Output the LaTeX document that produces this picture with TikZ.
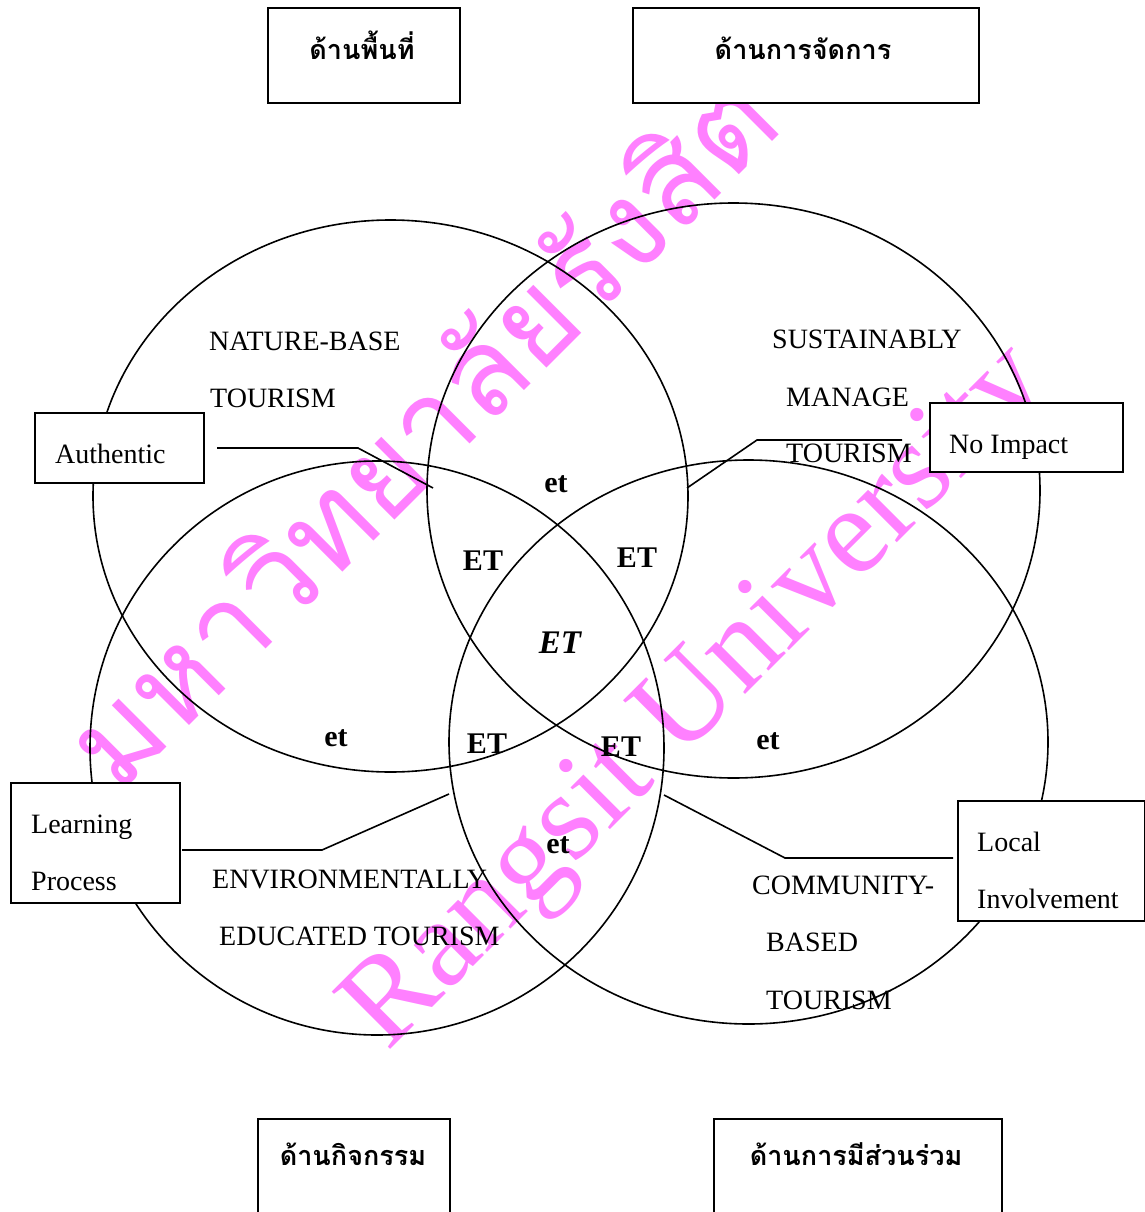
\documentclass[tikz,border=0pt]{standalone}
\usepackage{fontspec}
\setmainfont{Liberation Serif}
\newfontfamily\thaifont[Script=Thai]{Loma}
\usetikzlibrary{shapes.geometric}
\definecolor{wm}{RGB}{255,128,255}
\begin{document}
\begin{tikzpicture}[x=1pt,y=-1pt,
  ring/.style={draw, ellipse, line width=1.6pt, inner sep=0pt},
  box/.style={draw, line width=1.8pt, fill=white, inner sep=0pt, anchor=north west},
  lab/.style={font=\fontsize{28}{30}\selectfont, anchor=base west, inner sep=0pt},
  etl/.style={font=\fontsize{30}{32}\selectfont\bfseries, anchor=base, inner sep=0pt},
  th/.style={font=\thaifont\bfseries\fontsize{27}{32}\selectfont, anchor=base, inner sep=0pt},
  conn/.style={line width=1.6pt},
  wmth/.style={text=wm, font=\thaifont\fontsize{122}{122}\selectfont, rotate=45, inner sep=0pt},
  wmen/.style={text=wm, font=\fontsize{125}{125}\selectfont, rotate=45, inner sep=0pt}]
\useasboundingbox (0,0) rectangle (1145,1212);
% watermark
\node[wmth] (wmThai) at (418,428) {มหาวิทยาลัยรังสิต};
\node[wmen] (wmEng) at (700,700) {Rangsit University};
% ellipses
\node[ring, minimum width=595pt, minimum height=552pt] (nature) at (390.5,496) {};
\node[ring, minimum width=613pt, minimum height=575pt] (manage) at (733.5,490.5) {};
\node[ring, minimum width=574pt, minimum height=574pt] (educ) at (377,748) {};
\node[ring, minimum width=599pt, minimum height=564pt] (comm) at (748.5,742) {};
% ellipse texts
\node[lab] (t1) at (209,350) {NATURE-BASE};
\node[lab] (t2) at (210,407) {TOURISM};
\node[lab] (t3) at (772,348) {SUSTAINABLY};
\node[lab] (t4) at (786,406) {MANAGE};
\node[lab] (t5) at (786,462) {TOURISM};
\node[lab] (t6) at (212,888) {ENVIRONMENTALLY};
\node[lab] (t7) at (219,945) {EDUCATED TOURISM};
\node[lab] (t8) at (752,894) {COMMUNITY-};
\node[lab] (t9) at (766,951) {BASED};
\node[lab] (t10) at (766,1009) {TOURISM};
% region labels
\node[etl] (r1) at (556,492) {et};
\node[etl] (r2) at (483,570) {ET};
\node[etl] (r3) at (637,567) {ET};
\node[etl, font=\fontsize{33}{35}\selectfont\bfseries\itshape] (r4) at (560,653) {ET};
\node[etl] (r5) at (336,746) {et};
\node[etl] (r6) at (487,753) {ET};
\node[etl] (r7) at (621,756) {ET};
\node[etl] (r8) at (768,749) {et};
\node[etl] (r9) at (558,853) {et};
% side boxes
\node[box, minimum width=169pt, minimum height=70pt] (authBox) at (34,412) {};
\node[lab] (authT) at (55,463) {Authentic};
\node[box, minimum width=193pt, minimum height=69pt] (impBox) at (929,402) {};
\node[lab] (impT) at (949,453) {No Impact};
\node[box, minimum width=169pt, minimum height=120pt] (learnBox) at (10,782) {};
\node[lab] (learnT1) at (31,833) {Learning};
\node[lab] (learnT2) at (31,890) {Process};
\node[box, minimum width=187pt, minimum height=120pt] (localBox) at (957,800) {};
\node[lab] (localT1) at (977,851) {Local};
\node[lab] (localT2) at (977,908) {Involvement};
% connectors
\coordinate (aS) at (217,448); \coordinate (aB) at (358,448); \coordinate (aE) at (433,488);
\coordinate (nS) at (902,440); \coordinate (nB) at (757,440); \coordinate (nE) at (687,488);
\coordinate (lS) at (182,850); \coordinate (lB) at (322,850); \coordinate (lE) at (449,794);
\coordinate (cS) at (953,858); \coordinate (cB) at (785,858); \coordinate (cE) at (664,795);
\draw[conn] (aS) -- (aB) -- (aE);
\draw[conn] (nS) -- (nB) -- (nE);
\draw[conn] (lS) -- (lB) -- (lE);
\draw[conn] (cS) -- (cB) -- (cE);
% Thai heading boxes
\node[box, minimum width=192pt, minimum height=95pt] (areaBox) at (267,7) {};
\node[th] (areaT) at (362,60) {ด้านพื้นที่};
\node[box, minimum width=346pt, minimum height=95pt] (mgmtBox) at (632,7) {};
\node[th] (mgmtT) at (803,60) {ด้านการจัดการ};
\node[box, minimum width=192pt, minimum height=120pt] (actBox) at (257,1118) {};
\node[th] (actT) at (353,1165) {ด้านกิจกรรม};
\node[box, minimum width=288pt, minimum height=120pt] (partBox) at (713,1118) {};
\node[th] (partT) at (856,1165) {ด้านการมีส่วนร่วม};
\end{tikzpicture}
\end{document}
